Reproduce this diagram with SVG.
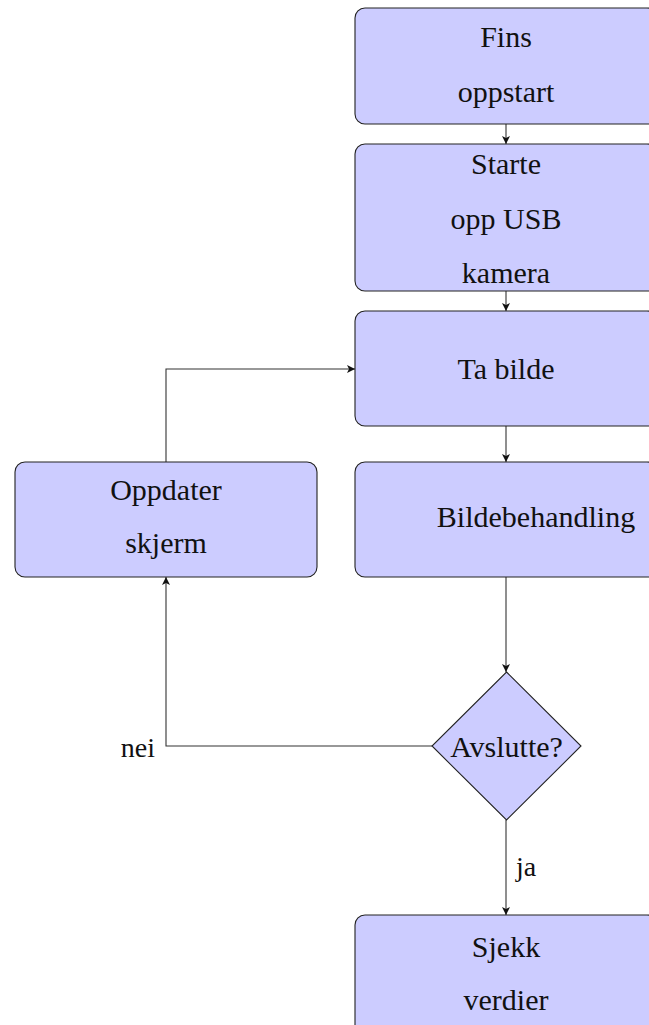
<svg xmlns="http://www.w3.org/2000/svg" width="649" height="1025" viewBox="0 0 649 1025">
<style>
.box{fill:#ccccff;stroke:#222;stroke-width:1.1}
.t{font-family:"Liberation Serif","Times New Roman",serif;font-size:30px;fill:#111;text-anchor:middle}
.c{fill:none;stroke:#333;stroke-width:1.1}
</style>
<defs>
<marker id="ah" viewBox="0 0 10 10" refX="10" refY="5" markerWidth="8" markerHeight="8" markerUnits="userSpaceOnUse" orient="auto">
<path d="M0,0 L10,5 L0,10 L2.5,5 Z" fill="#111"/>
</marker>
</defs>
<rect width="649" height="1025" fill="#fff"/>
<g id="connectors">
<path class="c" d="M506,124 V144" marker-end="url(#ah)"/>
<path class="c" d="M506,291 V311" marker-end="url(#ah)"/>
<path class="c" d="M506,426 V462" marker-end="url(#ah)"/>
<path class="c" d="M506,577 V672" marker-end="url(#ah)"/>
<path class="c" d="M506,820 V915" marker-end="url(#ah)"/>
<path class="c" d="M432,746 H166 V577" marker-end="url(#ah)"/>
<path class="c" d="M166,462 V369 H355" marker-end="url(#ah)"/>
<text class="t" x="516" y="876" style="text-anchor:start;font-size:28px">ja</text>
<text class="t" x="155" y="757" style="text-anchor:end;font-size:28px">nei</text>
</g>
<g id="fins">
<rect class="box" x="355" y="8" width="302" height="116" rx="10"/>
<text class="t" x="506" y="47">Fins</text>
<text class="t" x="506" y="102">oppstart</text>
</g>
<g id="starte">
<rect class="box" x="355" y="144" width="302" height="147" rx="10"/>
<text class="t" x="506" y="174">Starte</text>
<text class="t" x="506" y="229">opp USB</text>
<text class="t" x="506" y="283">kamera</text>
</g>
<g id="tabilde">
<rect class="box" x="355" y="311" width="302" height="115" rx="10"/>
<text class="t" x="506" y="379">Ta bilde</text>
</g>
<g id="bildebehandling">
<rect class="box" x="355" y="462" width="302" height="115" rx="10"/>
<text class="t" x="536" y="527">Bildebehandling</text>
</g>
<g id="oppdater">
<rect class="box" x="15" y="462" width="302" height="115" rx="10"/>
<text class="t" x="166" y="500">Oppdater</text>
<text class="t" x="166" y="553">skjerm</text>
</g>
<g id="avslutte">
<polygon class="box" points="506.5,672 581,746 506.5,820 432,746"/>
<text class="t" x="506.5" y="757">Avslutte?</text>
</g>
<g id="sjekk">
<rect class="box" x="355" y="915" width="302" height="140" rx="10"/>
<text class="t" x="506" y="957">Sjekk</text>
<text class="t" x="506" y="1010">verdier</text>
</g>
</svg>
